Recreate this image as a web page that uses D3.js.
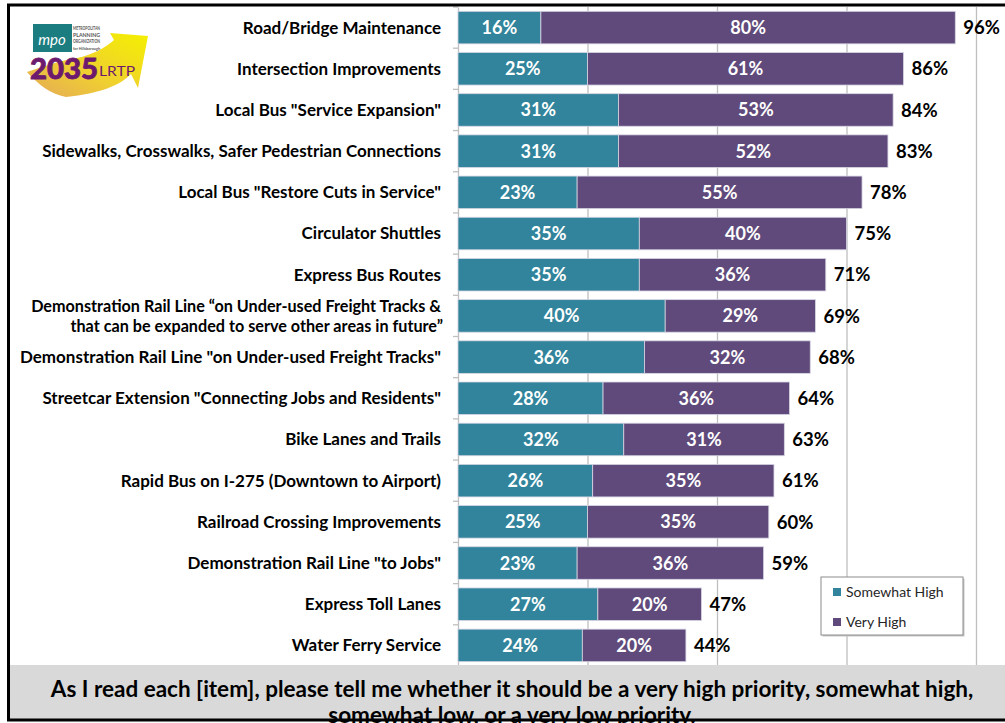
<!DOCTYPE html>
<html>
<head>
<meta charset="utf-8">
<script src="https://cdn.jsdelivr.net/npm/d3@7/dist/d3.min.js"></script>
<style>
  html, body { margin: 0; padding: 0; background: #ffffff; }
  svg { display: block; }
  text { font-family: Lato, "Open Sans", "DejaVu Sans", sans-serif; }
</style>
</head>
<body>
<svg id="chart" width="1005" height="723"></svg>
<script>
// Survey items, top to bottom
const categories = [
  "Road/Bridge Maintenance",
  "Intersection Improvements",
  "Local Bus \"Service Expansion\"",
  "Sidewalks, Crosswalks, Safer Pedestrian Connections",
  "Local Bus \"Restore Cuts in Service\"",
  "Circulator Shuttles",
  "Express Bus Routes",
  "Demonstration Rail Line \u201Con Under-used Freight Tracks &\nthat can be expanded to serve other areas in future\u201D",
  "Demonstration Rail Line \"on Under-used Freight Tracks\"",
  "Streetcar Extension \"Connecting Jobs and Residents\"",
  "Bike Lanes and Trails",
  "Rapid Bus on I-275 (Downtown to Airport)",
  "Railroad Crossing Improvements",
  "Demonstration Rail Line \"to Jobs\"",
  "Express Toll Lanes",
  "Water Ferry Service"
];
// Percent answering "Somewhat High"
const somewhatHigh = [16, 25, 31, 31, 23, 35, 35, 40, 36, 28, 32, 26, 25, 23, 27, 24];
// Percent answering "Very High"
const veryHigh = [80, 61, 53, 52, 55, 40, 36, 29, 32, 36, 31, 35, 35, 36, 20, 20];
// Combined high-priority share
const totals = [96, 86, 84, 83, 78, 75, 71, 69, 68, 64, 63, 61, 60, 59, 47, 44];
const seriesNames = ["Somewhat High", "Very High"];
const xTicks = [0, 25, 50, 75, 100];
const question = [
  "As I read each [item], please tell me whether it should be a very high priority, somewhat high,",
  "somewhat low, or a very low priority."
];

const colors = { "Somewhat High": "#31849b", "Very High": "#604a7b" };

const svg = d3.select("#chart");

const plot = { left: 458, right: 976, top: 7, bottom: 666 };

const x = d3.scaleLinear().domain([0, 100]).range([plot.left, plot.right]);
const y = d3.scaleBand().domain(categories)
  .range([plot.top, plot.bottom])
  .paddingInner(0.21).paddingOuter(0.105);

// ---- logo ----
const defs = svg.append("defs");
const grad = defs.append("linearGradient").attr("id", "arrowGrad")
  .attr("x1", "0%").attr("y1", "100%").attr("x2", "100%").attr("y2", "0%");
grad.append("stop").attr("offset", "0%").attr("stop-color", "#e4a85a");
grad.append("stop").attr("offset", "45%").attr("stop-color", "#f0d030");
grad.append("stop").attr("offset", "100%").attr("stop-color", "#f4f000");

const logo = svg.append("g").attr("class", "logo");
logo.append("path")
  .attr("d", "M27,72 C45,66 62,60 77,58 C92,55 105,48 114,40 L110,33 L148,36 L138,88 L131,74 C122,84 100,94 66,97 C50,94 38,84 27,72 Z")
  .attr("fill", "url(#arrowGrad)");
logo.append("rect").attr("x", 33).attr("y", 24).attr("width", 39).attr("height", 28).attr("fill", "#1b7d80");
logo.append("text").attr("x", 52).attr("y", 45).attr("text-anchor", "middle")
  .attr("font-family", "'DejaVu Serif', serif").attr("font-style", "italic")
  .attr("font-size", 15).attr("fill", "#ffffff").text("mpo");
["METROPOLITAN", "PLANNING", "ORGANIZATION", "for Hillsborough"].forEach((t, i) => {
  logo.append("text").attr("x", 73).attr("y", 30 + i * 6.5)
    .attr("font-size", i === 3 ? 4.5 : 5.5).attr("font-weight", 700)
    .attr("fill", "#555555").attr("textLength", 27).attr("lengthAdjust", "spacingAndGlyphs").text(t);
});
logo.append("text").attr("x", 30).attr("y", 79)
  .attr("font-size", 28).attr("font-weight", 900).attr("fill", "#6d1a6e")
  .attr("stroke", "#6d1a6e").attr("stroke-width", 0.8)
  .attr("textLength", 68).attr("lengthAdjust", "spacingAndGlyphs").text("2035");
logo.append("text").attr("x", 99).attr("y", 76)
  .attr("font-size", 13).attr("font-weight", 400).attr("fill", "#6d1a6e")
  .attr("textLength", 36).attr("lengthAdjust", "spacingAndGlyphs").text("LRTP");

// ---- gridlines ----
svg.append("g")
  .attr("transform", `translate(0,${plot.bottom - 1})`)
  .call(d3.axisBottom(x).tickValues(xTicks.slice(1)).tickSize(plot.bottom - 1 - plot.top).tickFormat(""))
  .call(g => g.select(".domain").remove())
  .call(g => g.selectAll(".tick line").attr("stroke", "#bfbfbf").attr("stroke-width", 1.3)
    .attr("y2", -(plot.bottom - 1 - plot.top)));

// ---- category axis ----
const yAxis = svg.append("g")
  .attr("transform", `translate(${plot.left},0)`)
  .call(d3.axisLeft(y).tickSize(0).tickPadding(17).tickFormat(""));
yAxis.select(".domain").attr("stroke", "#bfbfbf").attr("stroke-width", 1.3);

// tick marks between categories
const boundaries = categories.map(c => y(c) - y.step() * y.paddingInner() / 2)
  .concat([y(categories[categories.length - 1]) + y.bandwidth() + y.step() * y.paddingInner() / 2]);
svg.append("g").selectAll("line").data(boundaries).join("line")
  .attr("x1", plot.left - 5).attr("x2", plot.left)
  .attr("y1", d => d).attr("y2", d => d)
  .attr("stroke", "#bfbfbf").attr("stroke-width", 1.3);

// category labels (the wrapped two-line item is set slightly smaller)
const labels = svg.append("g").selectAll("text").data(categories).join("text")
  .attr("text-anchor", "end")
  .attr("font-size", d => d.includes("\n") ? 16.2 : 17)
  .attr("font-weight", 700).attr("fill", "#000000");
labels.each(function(d) {
  const lines = d.split("\n");
  const cy = y(d) + y.bandwidth() / 2;
  const lh = 20;
  const t = d3.select(this);
  lines.forEach((ln, i) => {
    t.append("tspan").attr("x", i === 0 ? 441 : 443)
      .attr("y", cy + (i - (lines.length - 1) / 2) * lh)
      .attr("dy", "0.35em").text(ln);
  });
});

// ---- stacked bars ----
const rows = categories.map((c, i) => ({ cat: c, sh: somewhatHigh[i], vh: veryHigh[i], total: totals[i] }));
const stack = d3.stack().keys(["sh", "vh"])(rows);
const keyName = { sh: "Somewhat High", vh: "Very High" };

const layers = svg.append("g").selectAll("g").data(stack).join("g")
  .attr("fill", d => colors[keyName[d.key]]);
layers.selectAll("rect").data(d => d).join("rect")
  .attr("x", d => x(d[0]))
  .attr("y", d => y(d.data.cat))
  .attr("width", d => x(d[1]) - x(d[0]))
  .attr("height", y.bandwidth())
  .attr("stroke", "#d6d6e4").attr("stroke-width", 0.8);

// segment values
layers.selectAll("text").data(d => d).join("text")
  .attr("x", d => (x(d[0]) + x(d[1])) / 2)
  .attr("y", d => y(d.data.cat) + y.bandwidth() / 2)
  .attr("dy", "0.36em")
  .attr("text-anchor", "middle")
  .attr("font-size", 18).attr("font-weight", 700).attr("fill", "#ffffff")
  .text(d => `${d[1] - d[0]}%`);

// totals
svg.append("g").selectAll("text").data(rows).join("text")
  .attr("x", d => x(d.sh + d.vh) + 8)
  .attr("y", d => y(d.cat) + y.bandwidth() / 2)
  .attr("dy", "0.36em")
  .attr("font-size", 18.5).attr("font-weight", 700).attr("fill", "#000000")
  .text(d => `${d.total}%`);

// ---- legend ----
const legend = svg.append("g").attr("transform", "translate(821,577)");
legend.append("rect").attr("x", 1.5).attr("y", 1.5).attr("width", 142).attr("height", 58).attr("fill", "#c8c8c8");
legend.append("rect").attr("width", 142).attr("height", 58).attr("fill", "#ffffff")
  .attr("stroke", "#8c8c8c").attr("stroke-width", 1);
seriesNames.forEach((s, i) => {
  legend.append("rect").attr("x", 12).attr("y", 11 + i * 30).attr("width", 8).attr("height", 8).attr("fill", colors[s]);
  legend.append("text").attr("x", 25).attr("y", 15 + i * 30).attr("dy", "0.35em")
    .attr("font-size", 14).attr("fill", "#262626").text(s);
});

// ---- question banner ----
svg.append("rect").attr("x", 9).attr("y", 665).attr("width", 996).attr("height", 56).attr("fill", "#d9d9d9");
question.forEach((q, i) => {
  svg.append("text").attr("x", 512).attr("y", 697 + i * 26)
    .attr("text-anchor", "middle").attr("font-size", 22.5).attr("font-weight", 700)
    .attr("fill", "#000000").text(q);
});

// ---- frame ----
svg.append("path").attr("d", "M1005,5 H8.5 V720 H1005")
  .attr("fill", "none").attr("stroke", "#000000").attr("stroke-width", 3);
</script>
</body>
</html>
